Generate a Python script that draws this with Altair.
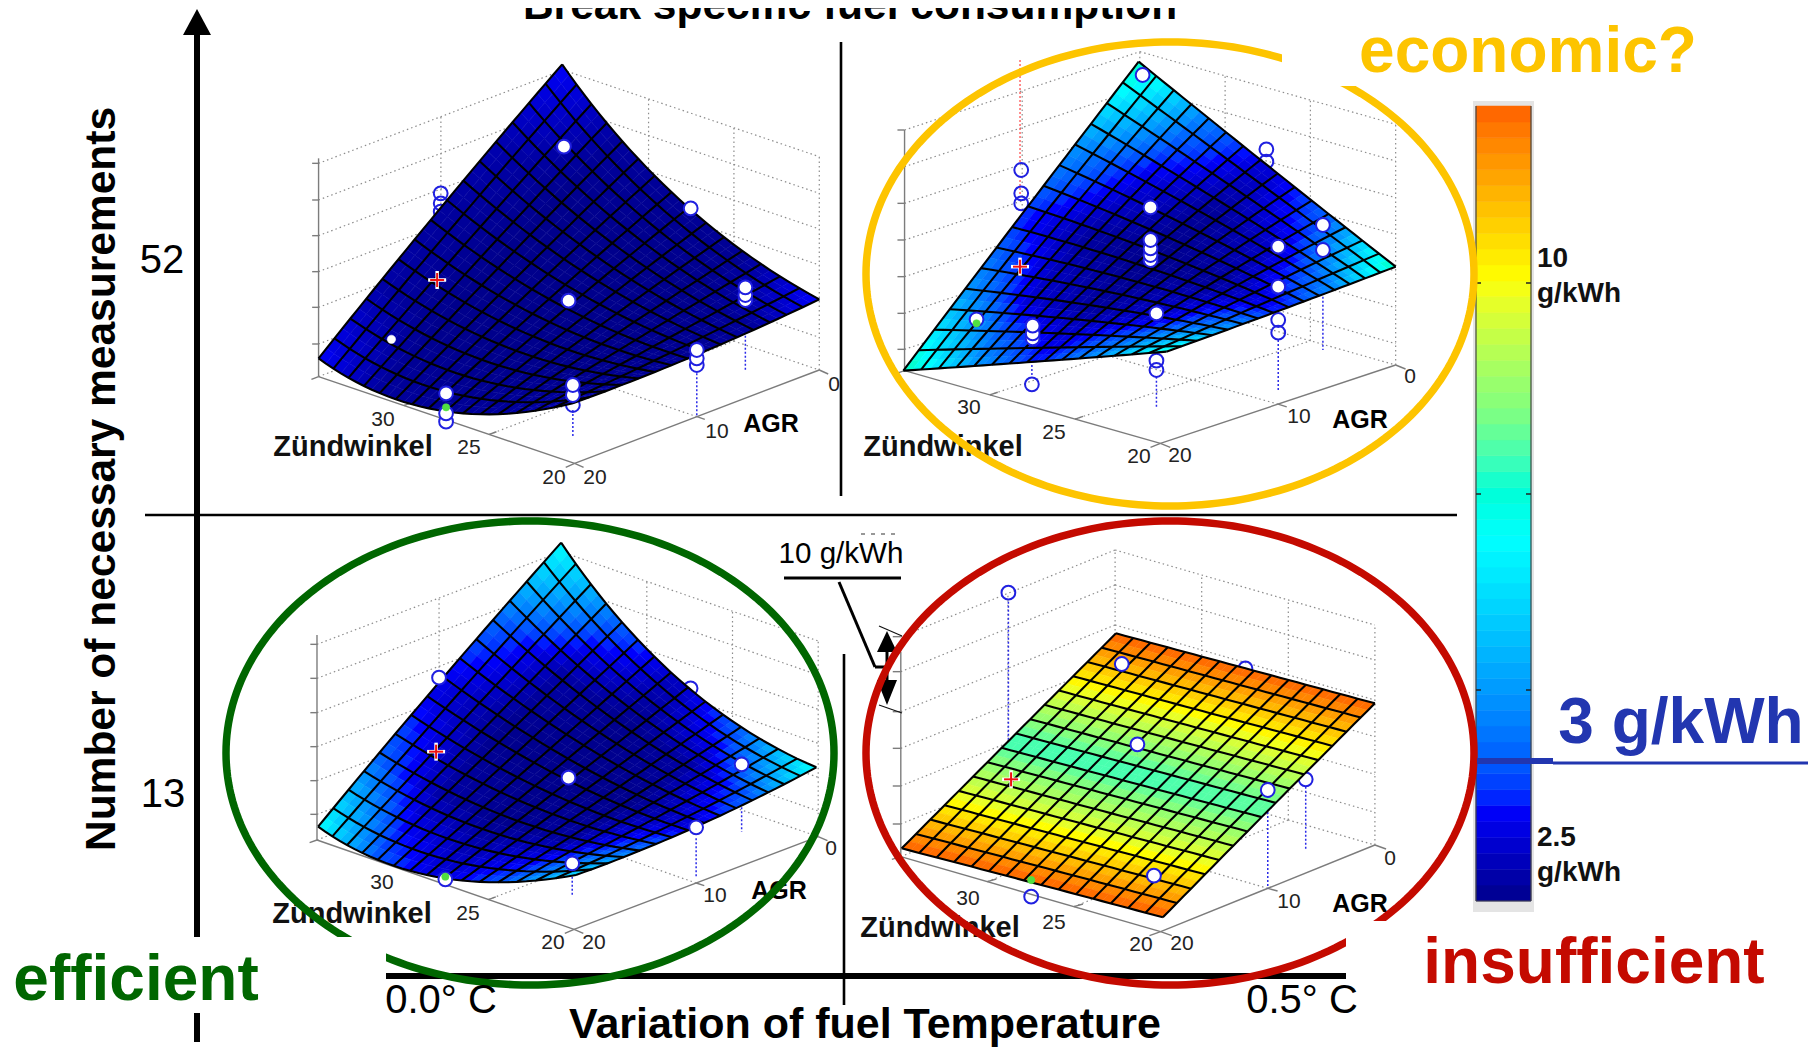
import numpy as np
import altair as alt

alt.data_transformers.disable_max_rows()

W, H = 1800, 1039
OFF = 8

# ---- colour map (colourbar position -> colour)
STOPS = [0.0, 0.118, 0.455, 0.616, 0.782, 1.0]
COLORS = ["#00008c", "#0000ff", "#00ffff", "#80ff80", "#ffff00", "#ff6000"]
BAR_BANDS = 50

# ---- panel frames: crop origin x, y, crop width (readings were taken in crops)
F1 = (280, 30, 560)
F2 = (850, 30, 620)
F3 = (280, 510, 580)
F4 = (770, 510, 700)

# ---- surfaces: 3x3 control outline (top, top-right edge, right / ... / left, bottom)
S1_CTRL = [[(790, 103), (1120, 510), (1510, 808)],
           [(445, 540), (800, 800), (1165, 975)],
           [(108, 985), (440, 1140), (820, 1120)]]
S1_LEVEL = [[.115, .02, .01, .01, .12], [.04, .0, .0, .0, .02], [.02, .0, 0, .0, .01],
            [.03, .0, .0, .0, .01], [.115, .02, .01, .02, .04]]
S2_CTRL = [[(730, 95), (1060, 410), (1380, 710)],
           [(430, 560), (765, 690), (1090, 840)],
           [(135, 1022), (470, 995), (800, 965)]]
S2_LEVEL = [[.56, .24, .07, .2, .56], [.27, .10, .01, .07, .26], [.13, .02, 0, .02, .12],
            [.28, .08, .02, .09, .28], [.56, .28, .12, .28, .52]]
S3_CTRL = [[(760, 98), (1080, 510), (1450, 772)],
           [(420, 530), (780, 780), (1125, 950)],
           [(103, 950), (420, 1100), (800, 1095)]]
S3_LEVEL = [[.46, .2, .05, .2, .46], [.2, .03, 0, .03, .2], [.09, .0, 0, .0, .09],
            [.2, .03, .0, .03, .22], [.46, .18, .08, .18, .4]]
S4_CTRL = [[(775, 370), (1065, 475), (1355, 580)],
           [(535, 692), (825, 796), (1117, 900)],
           [(295, 1015), (588, 1118), (880, 1222)]]
S4_LEVEL = [[1.0, 1.0, 1.0, 1.0, 1.0], [.76, .76, .75, .76, .77], [.55, .55, .55, .56, .57],
            [.76, .75, .75, .75, .76], [1.0, 1.0, 1.0, 1.0, 1.0]]
CELLS = [(15, 15), (15, 15), (15, 15), (15, 15)]

# ---- 3-D box: corners A, B, C, and tick heights of the z axis
BOX = [
    dict(A=(108, 1040), B=(825, 1300), C=(1510, 1020), z=[640, 530, 423, 315, 208, 98], top=655),
    dict(A=(138, 1022), B=(785, 1240), C=(1380, 1005), z=[722, 612, 502, 392, 282, 172, 64], top=722),
    dict(A=(100, 990), B=(795, 1258), C=(1455, 980), z=[587, 485, 382, 280, 178, 77], top=615),
    dict(A=(293, 1040), B=(875, 1265), C=(1355, 1005), z=[660, 555, 435, 325, 212, 98], top=615),
]

# ---- measurement markers (in crop coordinates), lower ones first
TOP_PTS = [
    [(795, 350), (1150, 535), (1303, 810), (1303, 795), (1303, 772), (808, 812), (1167, 1005), (1167, 985), (1167, 960),
     (820, 1095), (820, 1065), (465, 1175), (465, 1150), (465, 1090)],
    [(760, 532), (760, 690), (760, 675), (760, 655), (760, 630), (1083, 650), (1083, 770), (775, 850),
     (462, 925), (462, 910), (462, 887), (320, 868), (1196, 660), (1196, 585), (740, 135)],
    [(430, 503), (780, 803), (1248, 763), (1125, 952), (790, 1060), (447, 1108)],
    [(788, 462), (823, 703), (1115, 840), (860, 1097)],
]
SMALL_PTS = [[(312, 928)], [], [], []]
BEHIND_PTS = [
    [(450, 545), (450, 520), (450, 490), (820, 1125), (808, 840)],
    [(775, 930), (775, 992), (775, 1020), (1083, 870), (1083, 908), (460, 1063), (433, 420), (433, 490), (433, 520), (1053, 358), (1053, 395)],
    [(1110, 535), (780, 825)],
    [(1065, 475), (1200, 808), (534, 248), (585, 1160)],
]
GREEN_PTS = [[(465, 1132)], [(320, 880)], [(447, 1100)], [(585, 1110)]]
RED_PLUS = [(440, 750), (430, 710), (422, 725), (540, 808)]
STEMS = [
    [(1303, 905, 1020), (1167, 1030, 1160), (820, 1140, 1220), (808, 840, 855)],
    [(740, 160, 310), (1196, 800, 960), (1083, 930, 1085), (775, 1040, 1135), (460, 1005, 1040)],
    [(1248, 880, 965), (1125, 985, 1100), (790, 1100, 1155), (780, 825, 835)],
    [(534, 275, 690), (823, 730, 790), (1115, 870, 1135), (1200, 830, 1020)],
]
RED_STEMS = [(430, 90, 400), (430, 450, 500)]

# ---- labels per panel, in page pixels
TICK_LABELS = [
    [("30", 383, 420), ("25", 469, 448), ("20", 554, 478), ("20", 595, 478), ("10", 717, 432), ("0", 834, 385)],
    [("30", 969, 408), ("25", 1054, 433), ("20", 1139, 457), ("20", 1180, 456), ("10", 1299, 417), ("0", 1410, 377)],
    [("30", 382, 883), ("25", 468, 914), ("20", 553, 943), ("20", 594, 943), ("10", 715, 896), ("0", 831, 849)],
    [("30", 968, 899), ("25", 1054, 923), ("20", 1141, 945), ("20", 1182, 944), ("10", 1289, 902), ("0", 1390, 859)],
]
AGR_LABELS = [("AGR", 771, 424), ("AGR", 1360, 420), ("AGR", 779, 891), ("AGR", 1360, 904)]
ZW_LABELS = [("Zündwinkel", 353, 447), ("Zündwinkel", 943, 447), ("Zündwinkel", 352, 914), ("Zündwinkel", 940, 928)]

# ---- rings: centre x, centre y, radius x, radius y, colour
RINGS = [(1170, 274, 304, 232, "#fdc400"), (530, 753, 304, 232, "#006600"), (1170, 753, 304, 232, "#c40a00")]
MASKS = [(1282, 0, 1720, 86), (0, 937, 386, 1013), (1346, 921, 1800, 985)]


def to_page(frame, p):
    ox, oy, w = frame
    return ox + p[0] * w / 1568.0, oy + p[1] / 3.0


def basis(t):
    return np.array([(1 - t) * (1 - 2 * t), 4 * t * (1 - t), t * (2 * t - 1)])


def surf_point(ctrl, u, v):
    bu, bv = basis(u), basis(v)
    return tuple(np.einsum("i,j,ijk->k", bu, bv, ctrl))


def level_at(levels, u, v):
    a, b = u * 4, v * 4
    i, j = min(int(a), 3), min(int(b), 3)
    fa, fb = a - i, b - j
    return float(levels[i, j] * (1 - fa) * (1 - fb) + levels[i + 1, j] * fa * (1 - fb)
                 + levels[i, j + 1] * (1 - fa) * fb + levels[i + 1, j + 1] * fa * fb)


def surface(frame, ctrl, levels, ni, nj, sub=2):
    c = np.array([[to_page(frame, p) for p in row] for row in ctrl], dtype=float)
    lv = np.array(levels, dtype=float)
    feats, lines = [], []
    nu, nv = ni * sub, nj * sub
    for a in range(nu):
        for b in range(nv):
            u0, u1, v0, v1 = a / nu, (a + 1) / nu, b / nv, (b + 1) / nv
            ring = [surf_point(c, u0, v0), surf_point(c, u0, v1), surf_point(c, u1, v1), surf_point(c, u1, v0)]
            ring = [[float(x), float(y)] for x, y in ring]
            ring.append(ring[0])
            feats.append({"type": "Feature", "geometry": {"type": "Polygon", "coordinates": [ring]},
                          "properties": {"v": level_at(lv, (u0 + u1) / 2, (v0 + v1) / 2)}})
    for a in range(ni + 1):
        for k in range(nv + 1):
            x, y = surf_point(c, a / ni, k / nv)
            lines.append({"k": f"u{a}", "o": k, "x": float(x), "y": float(y)})
    for b in range(nj + 1):
        for k in range(nu + 1):
            x, y = surf_point(c, k / nu, b / nj)
            lines.append({"k": f"v{b}", "o": k, "x": float(x), "y": float(y)})
    return feats, lines


X = alt.Scale(domain=[OFF, OFF + W], range=[0, W], nice=False, zero=False)
Y = alt.Scale(domain=[OFF + H, OFF], nice=False, zero=False)
PROJ = dict(type="identity", scale=1, translate=[-OFF, -OFF])
CSCALE = alt.Scale(domain=STOPS, range=COLORS)


def seg_layer(segs, color, width, dash=None, cap="butt"):
    rows = [{"x": float(a), "y": float(b), "x2": float(c), "y2": float(d)} for a, b, c, d in segs]
    kw = dict(color=color, strokeWidth=width, strokeCap=cap)
    if dash:
        kw["strokeDash"] = dash
    return alt.Chart(alt.Data(values=rows)).mark_rule(**kw).encode(
        x=alt.X("x:Q", scale=X, axis=None), y=alt.Y("y:Q", scale=Y, axis=None),
        x2="x2:Q", y2="y2:Q")


def text_layer(rows, size, color="#000000", bold=False, angle=0, align="center"):
    vals = [{"t": t, "x": float(x), "y": float(y)} for t, x, y in rows]
    return alt.Chart(alt.Data(values=vals)).mark_text(
        font="Liberation Sans", fontSize=size, color=color, align=align, baseline="middle",
        fontWeight="bold" if bold else "normal", angle=angle).encode(
        x=alt.X("x:Q", scale=X, axis=None), y=alt.Y("y:Q", scale=Y, axis=None), text="t:N")


def point_layer(pts, size, fill, stroke, width):
    vals = [{"o": i, "x": float(x), "y": float(y)} for i, (x, y) in enumerate(pts)]
    kw = dict(shape="circle", size=size, strokeWidth=width, opacity=1)
    kw["filled"] = fill is not None
    kw["fill"] = fill if fill is not None else "transparent"
    kw["stroke"] = stroke
    return alt.Chart(alt.Data(values=vals)).mark_point(**kw).encode(
        x=alt.X("x:Q", scale=X, axis=None), y=alt.Y("y:Q", scale=Y, axis=None),
        order="o:Q")


def poly_layer(feats, **kw):
    return alt.Chart(alt.Data(values=feats)).mark_geoshape(**kw).encode(
        color=alt.Color("properties.v:Q", scale=CSCALE, legend=None),
        stroke=alt.Stroke("properties.v:Q", scale=CSCALE, legend=None),
    ).project(**PROJ)


FRAMES = [F1, F2, F3, F4]
CTRLS = [S1_CTRL, S2_CTRL, S3_CTRL, S4_CTRL]
LEVELS = [S1_LEVEL, S2_LEVEL, S3_LEVEL, S4_LEVEL]

dotted, grey, stem_segs, red_segs, plus_white, plus_red = [], [], [], [], [], []
behind, top, green, small = [], [], [], []
for f, box, tp, bh, gr, st, rp, sm in zip(FRAMES, BOX, TOP_PTS, BEHIND_PTS, GREEN_PTS, STEMS, RED_PLUS, SMALL_PTS):
    A, B, C = [np.array(box[k], dtype=float) for k in "ABC"]
    D = A + C - B
    seg = lambda p, q: (*to_page(f, p), *to_page(f, q))
    up = lambda p, h: p - np.array([0, h])
    zmax = max(box["z"])
    for h in box["z"]:
        dotted += [seg(up(A, h), up(D, h)), seg(up(D, h), up(C, h))]
    for P in [A + (D - A) / 2, D, D + (C - D) / 3, D + 2 * (C - D) / 3, C]:
        dotted.append(seg(P, up(P, zmax)))
    for frac in (1 / 3, 2 / 3):
        P = B + (A - B) * frac * 1.0
        dotted.append(seg(P, P + (C - B)))
    P = B + (C - B) / 2
    dotted.append(seg(P, P + (A - B)))
    dotted += [seg(A, D), seg(D, C)]
    grey += [seg(A, B), seg(B, C), seg(A, up(A, box["top"])),
             seg(B, B + (-25, 12)), seg(B, B + (25, 12)), seg(C, C + (25, 12)), seg(A, A + (-20, 8))]
    for h in box["z"]:
        grey.append(seg(up(A, h), up(A, h) + (-18, 0)))
    for frac in (1 / 3, 2 / 3):
        P = B + (A - B) * frac
        grey.append(seg(P, P + (20, -8)))
    P = B + (C - B) / 2
    grey.append(seg(P, P + (22, 8)))
    top += [to_page(f, p) for p in tp]
    small += [to_page(f, p) for p in sm]
    behind += [to_page(f, p) for p in bh]
    green += [to_page(f, p) for p in gr]
    for x, y0, y1 in st:
        stem_segs.append(seg((x, y0), (x, y1)))
    cx, cy = to_page(f, rp)
    plus_white += [(cx - 9, cy, cx + 9, cy), (cx, cy - 9, cx, cy + 9)]
    plus_red += [(cx - 7, cy, cx + 7, cy), (cx, cy - 7, cx, cy + 7)]
for x, y0, y1 in RED_STEMS:
    a = to_page(F2, (x, y0))
    b = to_page(F2, (x, y1))
    red_segs.append((*a, *b))

layers = []
# colourbar frame
bar_x0, bar_x1, bar_y0, bar_y1 = 1476.0, 1531.0, 106.0, 901.0
frame_poly = [[1473, 101], [1534, 101], [1534, 912], [1473, 912], [1473, 101]]
layers.append(alt.Chart(alt.Data(values=[{"type": "Feature", "geometry": {"type": "Polygon", "coordinates": [frame_poly]}, "properties": {}}]))
              .mark_geoshape(fill="#e4e4e4", stroke=None).project(**PROJ))
bands = []
for i in range(BAR_BANDS):
    y1 = bar_y1 - (bar_y1 - bar_y0) * i / BAR_BANDS
    y0 = bar_y1 - (bar_y1 - bar_y0) * (i + 1) / BAR_BANDS
    ring = [[bar_x0, y0], [bar_x1, y0], [bar_x1, y1], [bar_x0, y1], [bar_x0, y0]]
    bands.append({"type": "Feature", "geometry": {"type": "Polygon", "coordinates": [ring]},
                  "properties": {"v": (i + 0.5) / BAR_BANDS}})
layers.append(poly_layer(bands, strokeWidth=0.5))
layers.append(seg_layer([(bar_x0, bar_y0, bar_x0, bar_y1), (bar_x1, bar_y0, bar_x1, bar_y1), (bar_x0, bar_y1, bar_x1, bar_y1)], "#444444", 1.2))
tick_y = [283, 494, 690]
layers.append(seg_layer([(bar_x0, y, bar_x0 + 5, y) for y in tick_y] + [(bar_x1 - 5, y, bar_x1, y) for y in tick_y], "#222222", 1.5))

# 3-D box
layers.append(seg_layer(dotted, "#8c8c8c", 1.2, dash=[1.5, 3]))
layers.append(seg_layer(grey, "#7c7c7c", 1.4))
ticks = [t for lst in TICK_LABELS for t in lst]
layers.append(text_layer(ticks, 21, "#222222"))
layers.append(text_layer(AGR_LABELS, 25, bold=True))
layers.append(text_layer(ZW_LABELS, 29, "#111111", bold=True))
layers.append(seg_layer(red_segs, "#ff4040", 1.2, dash=[2, 2]))
layers.append(seg_layer(stem_segs, "#2a2ae8", 1.5, dash=[2, 2]))
layers.append(point_layer(behind, 190, None, "#2020e0", 2))

# surfaces
for f, c, l, (ni, nj) in zip(FRAMES, CTRLS, LEVELS, CELLS):
    feats, lines = surface(f, c, l, ni, nj)
    layers.append(poly_layer(feats, strokeWidth=0.5))
    layers.append(alt.Chart(alt.Data(values=lines)).mark_line(color="#000000", strokeWidth=2.1).encode(
        x=alt.X("x:Q", scale=X, axis=None), y=alt.Y("y:Q", scale=Y, axis=None),
        detail="k:N", order="o:Q"))

layers.append(point_layer(top, 190, "#ffffff", "#2020e0", 2))
layers.append(point_layer(small, 70, "#ffffff", "#ffffff", 0.5))
layers.append(point_layer(green, 55, "#50e040", "#50e040", 0.5))
layers.append(seg_layer(plus_white, "#ffffff", 3.5))
layers.append(seg_layer(plus_red, "#ee1111", 2))

# frame lines
layers.append(seg_layer([(145, 515, 1457, 515)], "#000000", 2.6))
layers.append(seg_layer([(841, 42, 841, 496), (844, 654, 844, 1005)], "#000000", 2.6))
layers.append(seg_layer([(386, 976, 1346, 976)], "#000000", 6))
layers.append(seg_layer([(197, 32, 197, 1042)], "#000000", 6))
arrow = {"type": "Feature", "properties": {}, "geometry": {"type": "Polygon", "coordinates": [[[197, 9], [211, 35], [183, 35], [197, 9]]]}}
arrow_up = {"type": "Feature", "properties": {}, "geometry": {"type": "Polygon", "coordinates": [[[887, 631], [897, 652], [877, 652], [887, 631]]]}}
arrow_dn = {"type": "Feature", "properties": {}, "geometry": {"type": "Polygon", "coordinates": [[[887, 705], [877, 680], [897, 680], [887, 705]]]}}
layers.append(alt.Chart(alt.Data(values=[arrow, arrow_up, arrow_dn])).mark_geoshape(fill="#000000", stroke=None).project(**PROJ))
layers.append(seg_layer([(784, 578, 901, 578), (839, 582, 875, 667), (875, 667, 886, 667), (887, 650, 887, 682)], "#000000", 3))
layers.append(seg_layer([(879, 626, 902, 636), (879, 705, 902, 713)], "#111111", 1.2))
layers.append(seg_layer([(861, 534, 899, 534)], "#333333", 1.2, dash=[4, 6]))

# rings
for cx, cy, rx, ry, col in RINGS:
    rows = [{"o": i, "x": cx + rx * float(np.cos(2 * np.pi * i / 240)), "y": cy + ry * float(np.sin(2 * np.pi * i / 240))} for i in range(241)]
    layers.append(alt.Chart(alt.Data(values=rows)).mark_line(color=col, strokeWidth=7.5).encode(
        x=alt.X("x:Q", scale=X, axis=None), y=alt.Y("y:Q", scale=Y, axis=None), order="o:Q"))

# white masks
mask_feats = [{"type": "Feature", "properties": {}, "geometry": {"type": "Polygon", "coordinates": [[[a, b], [c, b], [c, d], [a, d], [a, b]]]}} for a, b, c, d in MASKS]
layers.append(alt.Chart(alt.Data(values=mask_feats)).mark_geoshape(fill="#ffffff", stroke=None).project(**PROJ))

# 3 g/kWh marker
layers.append(seg_layer([(1477, 761, 1553, 761)], "#2236b0", 6))
layers.append(seg_layer([(1553, 763, 1808, 763)], "#2236b0", 3))

# text
layers.append(text_layer([("Break specific fuel consumption", 850, 6)], 42.5, bold=True))
layers.append(text_layer([("Variation of fuel Temperature", 865, 1025)], 43, bold=True))
layers.append(text_layer([("Number of necessary measurements", 102, 479)], 42.5, bold=True, angle=270))
layers.append(text_layer([("52", 162, 261), ("13", 163, 795), ("0.0° C", 441, 1001), ("0.5° C", 1302, 1001)], 40))
layers.append(text_layer([("10 g/kWh", 841, 554)], 29.6))
layers.append(text_layer([("10", 1537, 259), ("g/kWh", 1537, 294), ("2.5", 1537, 838), ("g/kWh", 1537, 873)], 28, "#111111", bold=True, align="left"))
layers.append(text_layer([("economic?", 1528, 53)], 64, "#fdc400", bold=True))
layers.append(text_layer([("efficient", 136, 981)], 64, "#006600", bold=True))
layers.append(text_layer([("insufficient", 1594, 964)], 64, "#c40a00", bold=True))
layers.append(text_layer([("3 g/kWh", 1681, 724)], 64, "#2236b0", bold=True))

chart = alt.layer(*layers).properties(
    width=W, height=H, padding=0, autosize=alt.AutoSizeParams(type="none"),
    background="#ffffff",
).configure_view(stroke=None)

chart.save("out.html", embed_options={"renderer": "svg", "actions": False})
